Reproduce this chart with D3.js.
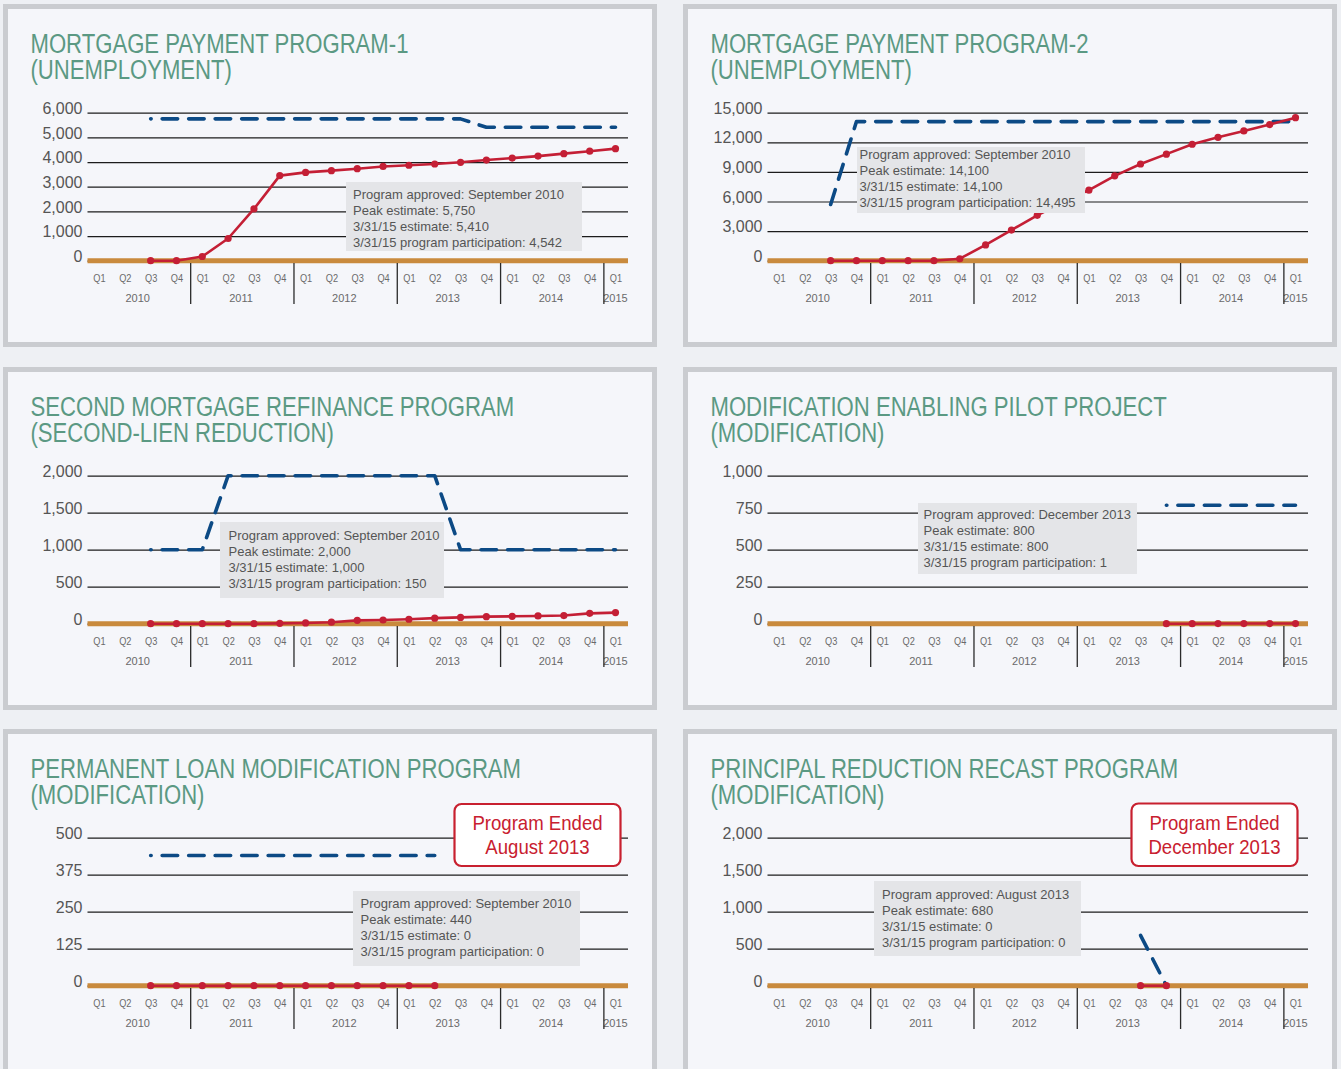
<!DOCTYPE html>
<html>
<head>
<meta charset="utf-8">
<script src="https://cdn.jsdelivr.net/npm/d3@7"></script>
<style>
  html, body { margin: 0; padding: 0; background: #eef0f4; }
  svg { display: block; }
</style>
</head>
<body>
<svg id="chart" width="1341" height="1069"></svg>
<script>
// ---- Data ---------------------------------------------------------------
const yearLabels = ["2010", "2011", "2012", "2013", "2014", "2015"];
const quarterLabels = ["Q1","Q2","Q3","Q4","Q1","Q2","Q3","Q4","Q1","Q2","Q3","Q4",
                       "Q1","Q2","Q3","Q4","Q1","Q2","Q3","Q4","Q1"];

// Mortgage Payment Program-1 (unemployment)
const mpp1Ticks = [0, 1000, 2000, 3000, 4000, 5000, 6000];
const mpp1Estimate = [null, null, 5750, 5750, 5750, 5750, 5750, 5750, 5750, 5750, 5750, 5750,
                      5750, 5750, 5750, 5410, 5410, 5410, 5410, 5410, 5410];
const mpp1Participation = [null, null, 0, 0, 170, 900, 2100, 3450, 3580, 3650, 3730, 3820,
                           3870, 3920, 3990, 4080, 4160, 4240, 4340, 4440, 4542];
const mpp1Note = ["Program approved: September 2010", "Peak estimate: 5,750",
                  "3/31/15 estimate: 5,410", "3/31/15 program participation: 4,542"];

// Mortgage Payment Program-2 (unemployment)
const mpp2Ticks = [0, 3000, 6000, 9000, 12000, 15000];
const mpp2Estimate = [null, null, 5700, 14100, 14100, 14100, 14100, 14100, 14100, 14100, 14100, 14100,
                      14100, 14100, 14100, 14100, 14100, 14100, 14100, 14100, 14100];
const mpp2Participation = [null, null, 0, 0, 0, 0, 0, 200, 1600, 3100, 4600, 5950,
                           7150, 8600, 9800, 10800, 11800, 12500, 13150, 13800, 14495];
const mpp2Note = ["Program approved: September 2010", "Peak estimate: 14,100",
                  "3/31/15 estimate: 14,100", "3/31/15 program participation: 14,495"];

// Second Mortgage Refinance Program (second-lien reduction)
const smrpTicks = [0, 500, 1000, 1500, 2000];
const smrpEstimate = [null, null, 1000, 1000, 1000, 2000, 2000, 2000, 2000, 2000, 2000, 2000,
                      2000, 2000, 1000, 1000, 1000, 1000, 1000, 1000, 1000];
const smrpParticipation = [null, null, 0, 0, 0, 0, 0, 5, 10, 20, 45, 50,
                           60, 75, 85, 95, 100, 105, 110, 140, 150];
const smrpNote = ["Program approved: September 2010", "Peak estimate: 2,000",
                  "3/31/15 estimate: 1,000", "3/31/15 program participation: 150"];

// Modification Enabling Pilot Project (modification)
const mepTicks = [0, 250, 500, 750, 1000];
const mepEstimate = [null, null, null, null, null, null, null, null, null, null, null, null,
                     null, null, null, 800, 800, 800, 800, 800, 800];
const mepParticipation = [null, null, null, null, null, null, null, null, null, null, null, null,
                          null, null, null, 0, 0, 1, 1, 1, 1];
const mepNote = ["Program approved: December 2013", "Peak estimate: 800",
                 "3/31/15 estimate: 800", "3/31/15 program participation: 1"];

// Permanent Loan Modification Program (modification)
const plmpTicks = [0, 125, 250, 375, 500];
const plmpEstimate = [null, null, 440, 440, 440, 440, 440, 440, 440, 440, 440, 440,
                      440, 440, null, null, null, null, null, null, null];
const plmpParticipation = [null, null, 0, 0, 0, 0, 0, 0, 0, 0, 0, 0,
                           0, 0, null, null, null, null, null, null, null];
const plmpNote = ["Program approved: September 2010", "Peak estimate: 440",
                  "3/31/15 estimate: 0", "3/31/15 program participation: 0"];
const plmpEnded = ["Program Ended", "August 2013"];

// Principal Reduction Recast Program (modification)
const prrpTicks = [0, 500, 1000, 1500, 2000];
const prrpEstimate = [null, null, null, null, null, null, null, null, null, null, null, null,
                      null, null, 680, 0, null, null, null, null, null];
const prrpParticipation = [null, null, null, null, null, null, null, null, null, null, null, null,
                           null, null, 0, 0, null, null, null, null, null];
const prrpNote = ["Program approved: August 2013", "Peak estimate: 680",
                  "3/31/15 estimate: 0", "3/31/15 program participation: 0"];
const prrpEnded = ["Program Ended", "December 2013"];

// ---- Panel table --------------------------------------------------------
const panels = [
  { title: ["MORTGAGE PAYMENT PROGRAM-1", "(UNEMPLOYMENT)"], ticks: mpp1Ticks,
    estimate: mpp1Estimate, participation: mpp1Participation, note: mpp1Note, ended: null,
    ox: 0, oy: 0, frameH: 338, dashOffset: 15,
    box: { x: 346, y: 182, w: 236, h: 69, tx: 353, ty: 198.5 } },
  { title: ["MORTGAGE PAYMENT PROGRAM-2", "(UNEMPLOYMENT)"], ticks: mpp2Ticks,
    estimate: mpp2Estimate, participation: mpp2Participation, note: mpp2Note, ended: null,
    ox: 680, oy: 0, frameH: 338, dashOffset: 0,
    box: { x: 177, y: 147, w: 228, h: 66, tx: 179.5, ty: 159 } },
  { title: ["SECOND MORTGAGE REFINANCE PROGRAM", "(SECOND-LIEN REDUCTION)"], ticks: smrpTicks,
    estimate: smrpEstimate, participation: smrpParticipation, note: smrpNote, ended: null,
    ox: 0, oy: 363, frameH: 338, dashOffset: 15,
    box: { x: 220, y: 159, w: 224, h: 76, tx: 228.5, ty: 176.5 } },
  { title: ["MODIFICATION ENABLING PILOT PROJECT", "(MODIFICATION)"], ticks: mepTicks,
    estimate: mepEstimate, participation: mepParticipation, note: mepNote, ended: null,
    ox: 680, oy: 363, frameH: 338, dashOffset: 15,
    box: { x: 238, y: 140, w: 219, h: 71, tx: 243.5, ty: 156 } },
  { title: ["PERMANENT LOAN MODIFICATION PROGRAM", "(MODIFICATION)"], ticks: plmpTicks,
    estimate: plmpEstimate, participation: plmpParticipation, note: plmpNote, ended: plmpEnded,
    ox: 0, oy: 725, frameH: 380, dashOffset: 15,
    box: { x: 353, y: 166, w: 227, h: 75, tx: 360.5, ty: 183 },
    endBox: { x: 454.5, y: 79, w: 166, h: 62 } },
  { title: ["PRINCIPAL REDUCTION RECAST PROGRAM", "(MODIFICATION)"], ticks: prrpTicks,
    estimate: prrpEstimate, participation: prrpParticipation, note: prrpNote, ended: prrpEnded,
    ox: 680, oy: 725, frameH: 380, dashOffset: 0,
    box: { x: 194, y: 156, w: 207, h: 75, tx: 202, ty: 174 },
    endBox: { x: 451.5, y: 78.5, w: 166, h: 62.5 } }
];

// ---- Drawing -------------------------------------------------------------
const FONT = "'Liberation Sans', Arial, 'DejaVu Sans', sans-serif";
const COLORS = {
  title: "#5b9983", grid: "#1c1c1c", tick: "#555555", quarter: "#6a6a6a",
  base: "#c98a3d", estimate: "#0c4a85", participation: "#c41f35",
  frame: "#caccd0", panel: "#f5f6fa", note: "#e4e5e8", noteText: "#555555", ended: "#c8202f"
};

const PLOT_L = 87.5, PLOT_R = 628, Y_TOP = 112.7, Y_ZERO = 260.7;

const quarterKeys = quarterLabels.map((q, i) => yearLabels[Math.floor(i / 4)] + " " + q);
const x = d3.scalePoint().domain(quarterKeys).range([99, 615.5]);
const step = x.step();

const svg = d3.select("#chart");

// multi-line text block, squeezed horizontally by sx
function scaledText(sel, px, py, lines, sx, anchor, lineH) {
  const t = sel.append("text")
    .attr("transform", `translate(${px},${py}) scale(${sx},1)`)
    .attr("text-anchor", anchor || "start");
  t.selectAll("tspan").data(lines).join("tspan")
    .attr("x", 0).attr("dy", (d, i) => i === 0 ? 0 : lineH)
    .text(d => d);
  return t;
}

panels.forEach(p => {
  const g = svg.append("g").attr("transform", `translate(${p.ox},${p.oy})`)
    .attr("font-family", FONT);

  // frame
  g.append("rect")
    .attr("x", 5.5).attr("y", 6.5).attr("width", 649).attr("height", p.frameH)
    .attr("fill", COLORS.panel).attr("stroke", COLORS.frame).attr("stroke-width", 5);

  // title
  const t = g.append("g").attr("fill", COLORS.title).attr("font-size", 28);
  scaledText(t, 30.5, 52.5, p.title, 0.79, "start", 27);

  // y scale + gridlines
  const y = d3.scaleLinear().domain([0, d3.max(p.ticks)]).range([Y_ZERO, Y_TOP]);
  const gy = g.append("g").attr("transform", `translate(${PLOT_L},0)`)
    .call(d3.axisLeft(y).tickValues(p.ticks).tickSize(-(PLOT_R - PLOT_L))
      .tickPadding(5).tickFormat(d3.format(",")));
  gy.select(".domain").remove();
  gy.attr("font-size", 16).attr("font-family", FONT);
  gy.selectAll("line").attr("stroke", COLORS.grid).attr("stroke-width", 1.2);
  gy.selectAll("text").attr("fill", COLORS.tick).attr("dy", "0.04em");

  // zero baseline
  g.append("line")
    .attr("x1", PLOT_L).attr("x2", PLOT_R).attr("y1", y(0)).attr("y2", y(0))
    .attr("stroke", COLORS.base).attr("stroke-width", 5);

  // quarter labels
  const gx = g.append("g").attr("transform", "translate(0,282)")
    .call(d3.axisBottom(x).tickSize(0).tickPadding(0)
      .tickFormat(k => quarterLabels[quarterKeys.indexOf(k)]));
  gx.select(".domain").remove();
  gx.attr("font-size", 11).attr("font-family", FONT);
  gx.selectAll("text").attr("y", 0).attr("dy", null)
    .attr("fill", COLORS.quarter).attr("transform", "scale(0.84,1)");

  // year labels
  g.append("g").attr("font-size", 11).attr("fill", COLORS.quarter)
    .selectAll("text").data(yearLabels).join("text")
    .attr("text-anchor", "middle")
    .attr("x", yr => d3.mean(quarterKeys.filter(k => k.startsWith(yr)), k => x(k)))
    .attr("y", 302)
    .text(yr => yr);

  // year separators (between Q4 and the next Q1)
  const seps = quarterKeys.filter((k, i) => quarterLabels[i] === "Q4" && i < quarterKeys.length - 1);
  g.append("g").selectAll("line").data(seps).join("line")
    .attr("x1", k => x(k) + step * 0.55).attr("x2", k => x(k) + step * 0.55)
    .attr("y1", 263).attr("y2", 304)
    .attr("stroke", "#2a2a2a").attr("stroke-width", 1.3);

  // series
  const toPts = arr => arr.map((v, i) => ({ k: quarterKeys[i], v })).filter(d => d.v !== null);
  const line = d3.line().x(d => x(d.k)).y(d => y(d.v));

  const est = toPts(p.estimate);
  g.append("path").datum(est)
    .attr("d", line).attr("fill", "none")
    .attr("stroke", COLORS.estimate).attr("stroke-width", 3.6)
    .attr("stroke-linecap", "round").attr("stroke-linejoin", "round")
    .attr("stroke-dasharray", "15.5,11").attr("stroke-dashoffset", p.dashOffset);

  const part = toPts(p.participation);
  g.append("path").datum(part)
    .attr("d", line).attr("fill", "none")
    .attr("stroke", COLORS.participation).attr("stroke-width", 2.6)
    .attr("stroke-linejoin", "round");
  g.append("g").selectAll("circle").data(part).join("circle")
    .attr("cx", d => x(d.k)).attr("cy", d => y(d.v)).attr("r", 3.6)
    .attr("fill", COLORS.participation);

  // note box
  const b = p.box;
  g.append("rect").attr("x", b.x).attr("y", b.y).attr("width", b.w).attr("height", b.h)
    .attr("fill", COLORS.note);
  g.append("g").attr("font-size", 13).attr("fill", COLORS.noteText)
    .selectAll("text").data(p.note).join("text")
    .attr("x", b.tx).attr("y", (d, i) => b.ty + i * 16)
    .text(d => d);

  // program-ended callout
  if (p.ended) {
    const e = p.endBox;
    g.append("rect").attr("x", e.x).attr("y", e.y).attr("width", e.w).attr("height", e.h)
      .attr("rx", 7).attr("fill", "#ffffff")
      .attr("stroke", COLORS.ended).attr("stroke-width", 2.2);
    const et = g.append("g").attr("fill", COLORS.ended).attr("font-size", 20);
    p.ended.forEach((line, i) => scaledText(et, e.x + e.w / 2, e.y + 26 + i * 24, [line], 0.93, "middle", 0));
  }
});
</script>
</body>
</html>
